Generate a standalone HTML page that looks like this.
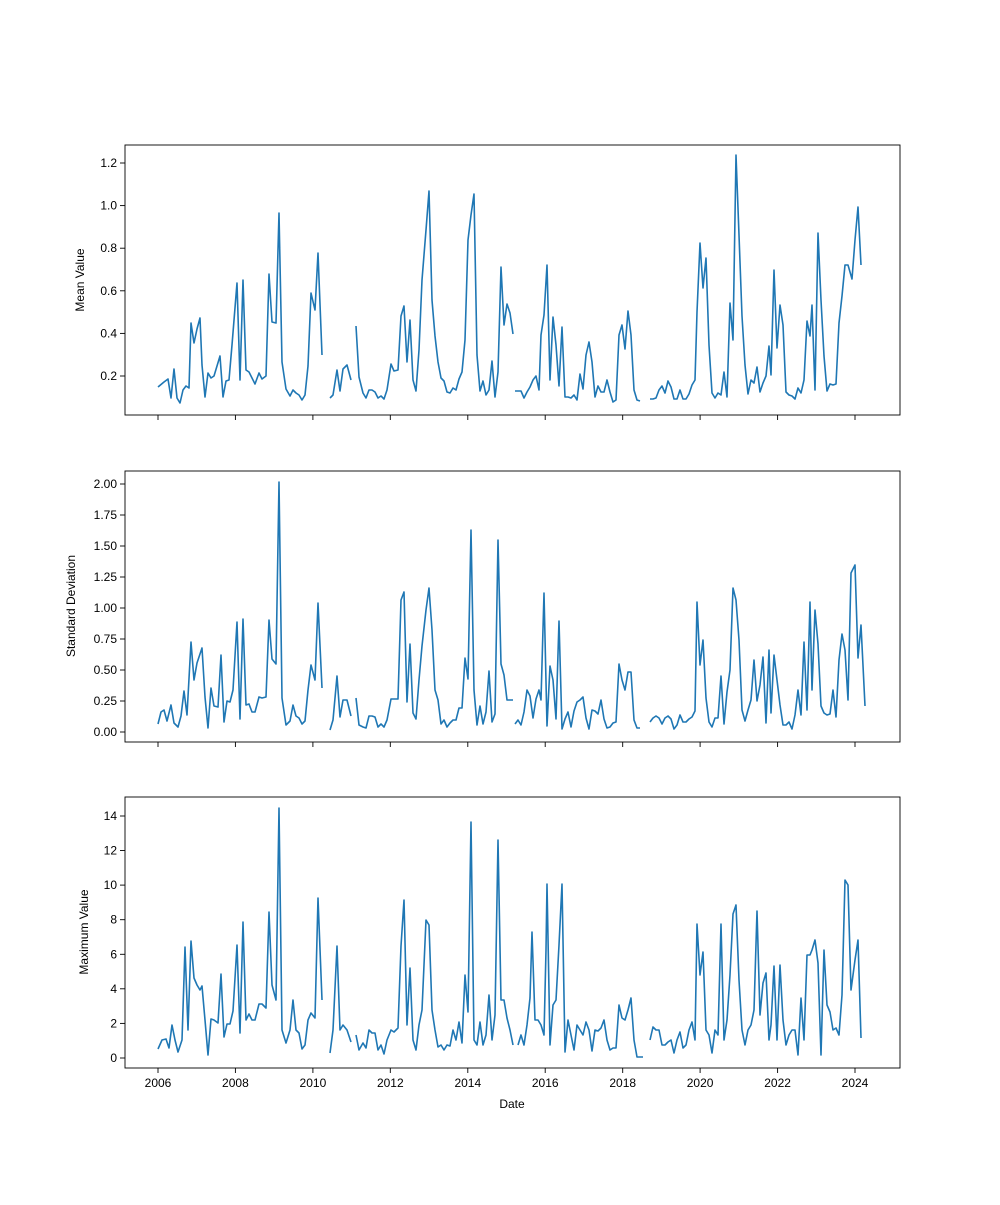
<!DOCTYPE html>
<html><head><meta charset="utf-8"><style>
body{margin:0;background:#fff}
svg text{font-family:"Liberation Sans","DejaVu Sans",sans-serif;font-size:12px;fill:#000}
.l{fill:none;stroke:#1f77b4;stroke-width:1.6;stroke-linejoin:round}
.f{fill:none;stroke:#000;stroke-width:0.9}
</style></head><body>
<svg width="1000" height="1200" xmlns="http://www.w3.org/2000/svg">
<rect width="1000" height="1200" fill="#fff"/>
<!-- frames -->
<rect class="f" x="125" y="145" width="775" height="270"/>
<rect class="f" x="125" y="471" width="775" height="271"/>
<rect class="f" x="125" y="797" width="775" height="271"/>
<g id="xt" stroke="#000" stroke-width="0.9">
<line x1="158" y1="415" x2="158" y2="420"/><line x1="235.4" y1="415" x2="235.4" y2="420"/><line x1="312.9" y1="415" x2="312.9" y2="420"/><line x1="390.3" y1="415" x2="390.3" y2="420"/><line x1="467.8" y1="415" x2="467.8" y2="420"/><line x1="545.2" y1="415" x2="545.2" y2="420"/><line x1="622.7" y1="415" x2="622.7" y2="420"/><line x1="700.1" y1="415" x2="700.1" y2="420"/><line x1="777.6" y1="415" x2="777.6" y2="420"/><line x1="855" y1="415" x2="855" y2="420"/>
<line x1="158" y1="742" x2="158" y2="747"/><line x1="235.4" y1="742" x2="235.4" y2="747"/><line x1="312.9" y1="742" x2="312.9" y2="747"/><line x1="390.3" y1="742" x2="390.3" y2="747"/><line x1="467.8" y1="742" x2="467.8" y2="747"/><line x1="545.2" y1="742" x2="545.2" y2="747"/><line x1="622.7" y1="742" x2="622.7" y2="747"/><line x1="700.1" y1="742" x2="700.1" y2="747"/><line x1="777.6" y1="742" x2="777.6" y2="747"/><line x1="855" y1="742" x2="855" y2="747"/>
<line x1="158" y1="1068" x2="158" y2="1073"/><line x1="235.4" y1="1068" x2="235.4" y2="1073"/><line x1="312.9" y1="1068" x2="312.9" y2="1073"/><line x1="390.3" y1="1068" x2="390.3" y2="1073"/><line x1="467.8" y1="1068" x2="467.8" y2="1073"/><line x1="545.2" y1="1068" x2="545.2" y2="1073"/><line x1="622.7" y1="1068" x2="622.7" y2="1073"/><line x1="700.1" y1="1068" x2="700.1" y2="1073"/><line x1="777.6" y1="1068" x2="777.6" y2="1073"/><line x1="855" y1="1068" x2="855" y2="1073"/>
<!-- y ticks top -->
<line x1="120" y1="376" x2="125" y2="376"/><line x1="120" y1="333.4" x2="125" y2="333.4"/><line x1="120" y1="290.8" x2="125" y2="290.8"/><line x1="120" y1="248.2" x2="125" y2="248.2"/><line x1="120" y1="205.6" x2="125" y2="205.6"/><line x1="120" y1="163" x2="125" y2="163"/>
<!-- mid -->
<line x1="120" y1="732" x2="125" y2="732"/><line x1="120" y1="701" x2="125" y2="701"/><line x1="120" y1="670" x2="125" y2="670"/><line x1="120" y1="639" x2="125" y2="639"/><line x1="120" y1="608" x2="125" y2="608"/><line x1="120" y1="577" x2="125" y2="577"/><line x1="120" y1="546" x2="125" y2="546"/><line x1="120" y1="515" x2="125" y2="515"/><line x1="120" y1="484" x2="125" y2="484"/>
<!-- bottom -->
<line x1="120" y1="1058" x2="125" y2="1058"/><line x1="120" y1="1023.4" x2="125" y2="1023.4"/><line x1="120" y1="988.8" x2="125" y2="988.8"/><line x1="120" y1="954.3" x2="125" y2="954.3"/><line x1="120" y1="919.7" x2="125" y2="919.7"/><line x1="120" y1="885.1" x2="125" y2="885.1"/><line x1="120" y1="850.5" x2="125" y2="850.5"/><line x1="120" y1="816" x2="125" y2="816"/>
</g>
<g text-anchor="end">
<text x="117" y="380">0.2</text><text x="117" y="337.4">0.4</text><text x="117" y="294.8">0.6</text><text x="117" y="252.2">0.8</text><text x="117" y="209.6">1.0</text><text x="117" y="167">1.2</text>
<text x="117" y="736">0.00</text><text x="117" y="705">0.25</text><text x="117" y="674">0.50</text><text x="117" y="643">0.75</text><text x="117" y="612">1.00</text><text x="117" y="581">1.25</text><text x="117" y="550">1.50</text><text x="117" y="519">1.75</text><text x="117" y="488">2.00</text>
<text x="117" y="1062">0</text><text x="117" y="1027.4">2</text><text x="117" y="992.8">4</text><text x="117" y="958.3">6</text><text x="117" y="923.7">8</text><text x="117" y="889.1">10</text><text x="117" y="854.5">12</text><text x="117" y="820">14</text>
</g>
<g text-anchor="middle">
<text x="158" y="1087">2006</text><text x="235.4" y="1087">2008</text><text x="312.9" y="1087">2010</text><text x="390.3" y="1087">2012</text><text x="467.8" y="1087">2014</text><text x="545.2" y="1087">2016</text><text x="622.7" y="1087">2018</text><text x="700.1" y="1087">2020</text><text x="777.6" y="1087">2022</text><text x="855" y="1087">2024</text>
<text x="512" y="1108">Date</text>
<text transform="translate(84,280) rotate(-90)">Mean Value</text>
<text transform="translate(75,606) rotate(-90)">Standard Deviation</text>
<text transform="translate(88,932) rotate(-90)">Maximum Value</text>
</g>
<!-- top series -->
<polyline class="l" points="158,387 164,382 168,379 171,398 174,369 177,398 180,403 183,390 186,386 189,388 191,323 194,343 197,329 200,318 202,365 205,397 208,373 211,378 214,376 220,356 223,397 226,381 229,380 232,345 237,283 240,380 243,280 246,370 249,372 255,384 259,373 262,379 266,376 269,274 272,322 276,323 279,213 282,362 286,389 290,396 293,390 296,393 299,395 302,400 305,395 308,366 311,293 315,310 318,253 322,355"/>
<polyline class="l" points="330,398 333,395 337,370 340,391 343,369 347,365 351,380"/>
<polyline class="l" points="356,326 359,377 363,393 366,398 369,390 372,390 375,392 378,398 381,396 384,399 387,390 391,364 394,371 398,370 401,316 404,306 407,362 410,320 413,380 416,391 419,350 422,280 426,230 429,191 432,300 435,336 438,362 441,378 444,381 447,392 450,393 453,388 456,390 459,379 462,372 465,340 468,240 471,215 474,194 477,355 480,391 483,381 486,395 489,390 492,361 495,397 498,372 501,267 504,325 507,304 510,313 513,334"/>
<polyline class="l" points="515,391 518,391 521,391 524,398 527,392 530,387 533,380 536,376 539,390 541,335 544,315 547,265 550,380 553,317 556,345 559,386 562,327 565,397 568,397 571,398 574,395 577,400 580,374 583,389 586,355 589,342 592,362 595,397 598,386 601,392 604,392 607,380 610,392 613,402 616,400 619,335 622,325 625,349 628,311 631,335 634,390 637,400 640,401"/>
<polyline class="l" points="650,399 653,399 656,398 659,390 662,386 665,393 668,381 671,387 674,399 677,399 680,390 683,399 686,399 689,394 692,385 695,380 697,312 700,243 703,288 706,258 709,345 712,393 715,398 718,393 721,395 724,372 727,397 730,303 733,340 736,155 739,235 742,316 745,365 748,394 751,380 754,383 757,367 760,392 763,383 766,376 769,346 771,375 774,270 777,348 780,305 783,325 786,392 789,395 792,396 795,399 798,388 801,393 804,380 807,321 810,336 812,305 815,390 818,233 821,300 824,356 827,391 830,384 833,385 836,384 839,323 842,296 845,265 848,265 852,279 855,240 858,207 861,265"/>
<!-- middle series -->
<polyline class="l" points="158,724 161,712 164,710 167,721 171,705 174,723 178,727 181,716 184,691 187,715 191,642 194,680 197,663 202,648 205,697 208,728 211,688 214,706 218,707 221,655 224,722 227,701 230,702 233,690 237,622 240,719 243,619 246,705 249,704 252,712 255,712 259,697 262,698 266,697 269,620 272,659 276,664 279,482 282,698 286,725 290,721 293,705 296,716 299,718 302,724 305,721 308,690 311,665 315,680 318,603 322,688"/>
<polyline class="l" points="330,730 333,720 337,676 340,717 343,700 347,700 351,716"/>
<polyline class="l" points="356,698 359,725 363,727 366,728 369,716 372,716 375,717 378,727 381,724 384,727 387,720 391,699 394,699 398,699 401,600 404,592 407,702 410,644 413,713 416,719 419,680 422,646 426,610 429,588 432,630 435,690 438,700 441,724 444,720 447,727 450,723 453,720 456,720 459,708 462,708 465,658 468,679 471,530 474,690 477,725 480,706 483,724 486,712 489,671 492,722 495,714 498,540 501,664 504,675 507,700 510,700 513,700"/>
<polyline class="l" points="515,724 518,720 521,725 524,712 527,690 530,696 533,718 536,699 539,690 541,700 544,593 547,726 550,666 553,680 556,719 559,621 562,729 565,719 568,712 571,727 574,711 577,702 580,700 583,697 586,718 589,729 592,710 595,711 598,714 601,700 604,719 607,728 610,727 613,723 616,722 619,664 622,680 625,690 628,672 631,672 634,720 637,728 640,728"/>
<polyline class="l" points="650,722 653,718 656,716 659,718 662,724 665,718 668,716 671,719 674,729 677,725 680,715 683,722 686,722 689,719 692,717 695,711 697,602 700,665 703,640 706,698 709,722 712,727 715,718 718,718 721,676 724,724 727,692 730,670 733,588 736,600 739,640 742,710 745,721 748,710 751,700 754,660 757,701 760,685 763,657 766,723 769,650 771,713 774,655 777,680 780,705 783,725 786,725 789,722 792,729 795,715 798,690 801,715 804,642 807,710 810,602 812,690 815,610 818,644 821,706 824,713 827,715 830,714 833,690 836,717 839,660 842,634 845,650 848,700 851,573 855,565 858,658 861,625 865,706"/>
<!-- bottom series -->
<polyline class="l" points="158,1049 162,1040 166,1039 169,1048 172,1025 175,1040 178,1052 182,1040 185,947 188,1030 191,941 194,978 197,985 200,990 202,986 205,1020 208,1055 211,1019 214,1020 218,1023 221,974 224,1037 227,1024 230,1024 233,1011 237,945 240,1033 243,922 246,1020 249,1014 252,1020 255,1020 259,1004 262,1004 266,1008 269,912 272,985 276,1000 279,808 282,1030 286,1043 290,1030 293,1000 296,1030 299,1033 302,1049 305,1045 308,1020 311,1013 315,1018 318,898 322,1000"/>
<polyline class="l" points="330,1053 333,1030 337,946 340,1030 343,1025 347,1030 351,1042"/>
<polyline class="l" points="356,1035 359,1050 363,1043 366,1048 369,1030 372,1033 375,1033 378,1050 381,1045 384,1054 387,1040 391,1030 394,1032 398,1028 401,946 404,900 407,1025 410,968 413,1040 416,1050 419,1025 422,1010 426,920 429,925 432,1010 435,1030 438,1047 441,1045 444,1050 447,1045 450,1046 453,1030 456,1040 459,1022 462,1043 465,975 468,1012 471,822 474,1040 477,1045 480,1022 483,1045 486,1035 489,995 492,1040 495,1015 498,840 501,1000 504,1000 507,1018 510,1030 513,1045"/>
<polyline class="l" points="518,1045 521,1035 524,1045 527,1025 530,998 532,932 535,1020 538,1020 541,1025 544,1035 546,950 547,884 550,1045 553,1005 556,1000 559,945 562,884 565,1052 568,1020 571,1035 574,1050 577,1025 580,1030 583,1035 586,1022 589,1030 592,1051 595,1030 598,1031 601,1028 604,1020 607,1040 610,1050 613,1048 616,1048 619,1005 622,1018 625,1020 628,1010 631,998 634,1040 637,1057 640,1057 643,1057"/>
<polyline class="l" points="650,1040 653,1027 656,1030 659,1030 662,1045 665,1045 668,1042 671,1040 674,1053 677,1040 680,1032 683,1048 686,1045 689,1030 692,1022 695,1040 697,924 700,975 703,952 706,1030 709,1035 712,1053 715,1030 718,1035 721,924 724,1040 727,1020 730,975 733,914 736,905 739,980 742,1030 745,1045 748,1030 751,1025 754,1010 757,911 760,1015 763,983 766,973 769,1040 771,1025 774,966 777,1040 780,965 783,1020 786,1045 789,1035 792,1030 795,1030 798,1055 801,998 804,1040 807,955 810,955 812,950 815,940 818,963 821,1055 824,950 827,1005 830,1012 833,1030 836,1028 839,1035 842,995 845,880 848,885 851,990 855,960 858,940 861,1038"/>
</svg>
</body></html>
